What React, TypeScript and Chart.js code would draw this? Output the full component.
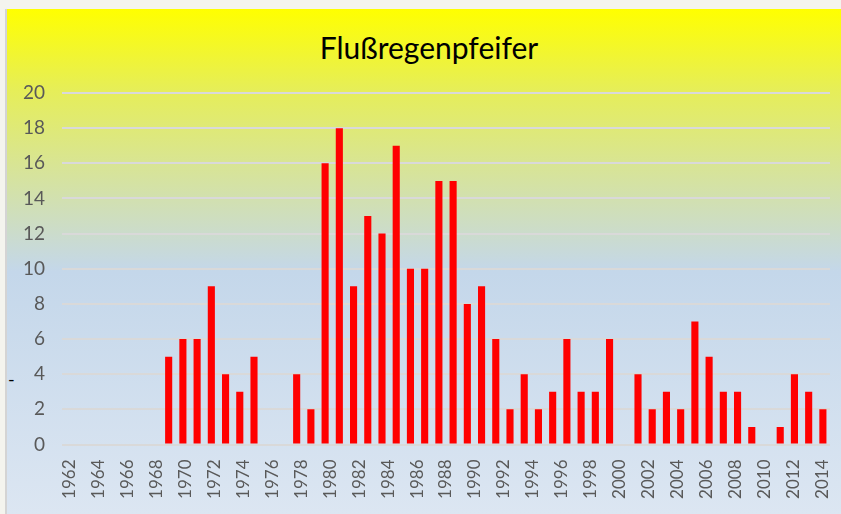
import { useEffect, useRef } from "react";
import { Chart, registerables } from "chart.js";

Chart.register(...registerables);

// Category slots used by the bars (one per year)
const barYears = [
  "1962", "1963", "1964", "1965", "1966", "1967", "1968", "1969", "1970", "1971",
  "1972", "1973", "1974", "1975", "1976", "1977", "1978", "1979", "1980", "1981",
  "1982", "1983", "1984", "1985", "1986", "1987", "1988", "1989", "1990", "1991",
  "1992", "1993", "1994", "1995", "1996", "1997", "1998", "1999", "2000", "2001",
  "2002", "2003", "2004", "2005", "2006", "2007", "2008", "2009", "2010", "2011",
  "2012", "2013", "2014", "2015",
];

// Counts per year
const counts = [
  0, 0, 0, 0, 0, 0, 0, 5, 6, 6,
  9, 4, 3, 5, 0, 0, 4, 2, 16, 18,
  9, 13, 12, 17, 10, 10, 15, 15, 8, 9,
  6, 2, 4, 2, 3, 6, 3, 3, 6, 0,
  4, 2, 3, 2, 7, 5, 3, 3, 1, 0,
  1, 4, 3, 2,
];

// Category labels shown along the x axis
const labelYears = [
  "1962", "1963", "1964", "1965", "1966", "1967", "1968", "1969", "1970", "1971",
  "1972", "1973", "1974", "1975", "1976", "1977", "1978", "1979", "1980", "1981",
  "1982", "1983", "1984", "1985", "1986", "1987", "1988", "1989", "1990", "1991",
  "1992", "1993", "1994", "1995", "1996", "1997", "1998", "1999", "2000", "2001",
  "2002", "2003", "2004", "2005", "2006", "2007", "2008", "2009", "2010", "2011",
  "2012", "2013", "2014",
];

const title = "Flußregenpfeifer";
const yMin = 0;
const yMax = 20;
const yStep = 2;

export default function App() {
  const canvasRef = useRef<HTMLCanvasElement | null>(null);

  useEffect(() => {
    if (!canvasRef.current) return;
    const chart = new Chart(canvasRef.current, {
      type: "bar",
      data: {
        labels: barYears,
        datasets: [
          {
            label: title,
            data: counts,
            backgroundColor: "#FF0000",
            borderWidth: 0,
            barPercentage: 0.5,
            categoryPercentage: 1,
            xAxisID: "x",
            yAxisID: "y",
          },
        ],
      },
      options: {
        responsive: false,
        animation: false,
        layout: { padding: { top: 93, right: 11, bottom: 0, left: 0 } },
        plugins: {
          legend: { display: false },
          tooltip: { enabled: false },
          title: { display: false },
        },
        scales: {
          x: { type: "category", display: false, offset: true },
          xLab: {
            type: "category",
            labels: labelYears,
            position: "bottom",
            offset: true,
            grid: { display: false, drawTicks: false },
            border: { display: false },
            ticks: {
              autoSkip: false,
              maxRotation: 90,
              minRotation: 90,
              padding: 15,
              color: "#595959",
              font: { family: "Lato", size: 17 },
              callback: (_v: any, i: number) => (i % 2 === 0 ? labelYears[i] : ""),
            },
            afterFit: (s: any) => {
              s.height = 69.5;
              s.paddingLeft = 0;
              s.paddingRight = 0;
            },
          },
          y: {
            min: yMin,
            max: yMax,
            ticks: {
              stepSize: yStep,
              padding: 17,
              color: "#595959",
              font: { family: "Lato", size: 19 },
            },
            grid: { color: "#D9D9D9", lineWidth: 2, drawTicks: false },
            border: { display: false },
            afterFit: (s: any) => {
              s.width = 62;
            },
          },
        },
      },
    } as any);
    return () => chart.destroy();
  }, []);

  return (
    <div
      style={{
        position: "fixed",
        left: 0,
        top: 0,
        width: 841,
        height: 514,
        background: "#F4F4EE",
        overflow: "hidden",
      }}
    >
      <div
        style={{
          position: "absolute",
          left: 5,
          top: 9,
          right: 0,
          bottom: 0,
          borderLeft: "2px solid #D4D4D4",
          background:
            "linear-gradient(to bottom, #FFFF00 0%, #E6EE58 16%, #C4D7EA 52%, #DCE6F2 100%)",
        }}
      />
      <div
        style={{
          position: "absolute",
          left: 0,
          top: 29,
          width: 858,
          textAlign: "center",
          fontFamily: "Lato",
          fontSize: 30,
          lineHeight: "36px",
          color: "#000",
          whiteSpace: "nowrap",
        }}
      >
        {title}
      </div>
      <span
        style={{
          position: "absolute",
          left: 8,
          top: 368,
          fontFamily: "Lato",
          fontSize: 18,
          color: "#000",
        }}
      >
        -
      </span>
      <canvas
        ref={canvasRef}
        width={841}
        height={514}
        style={{ position: "absolute", left: 0, top: 0 }}
      />
    </div>
  );
}
